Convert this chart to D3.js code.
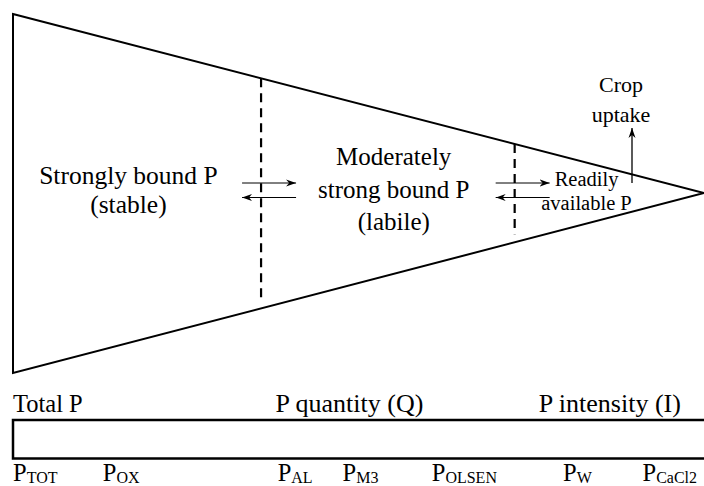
<!DOCTYPE html>
<html><head><meta charset="utf-8">
<script src="https://cdn.jsdelivr.net/npm/d3@7"></script>
<style>html,body{margin:0;padding:0;background:#fff;}svg{display:block;}</style>
</head><body>
<script>
// Pools along the wedge (fraction of wedge length from left edge to apex)
const poolNames = [["Strongly bound P","(stable)"],["Moderately","strong bound P","(labile)"],["Readily","available P"]];
const poolCenters = [0.167, 0.551, 0.830];
const boundaries = [0.359, 0.726];
const groupLabels = ["Total P","P quantity (Q)","P intensity (I)"];
const groupStarts = [0.0, 0.380, 0.761];
const methodMain = ["P","P","P","P","P","P","P"];
const methodSubs = ["TOT","OX","AL","M3","OLSEN","W","CaCl2"];
const methodStarts = [0.0, 0.130, 0.383, 0.477, 0.606, 0.796, 0.911];

const W=704,H=486;
const FONT='"Liberation Serif"';
const svg=d3.select("body").append("svg").attr("width",W).attr("height",H);
const x=d3.scaleLinear().domain([0,1]).range([13,704]);
const yTop=d3.scaleLinear().domain([0,1]).range([14,193]);
const yBot=d3.scaleLinear().domain([0,1]).range([373,193]);

const defs=svg.append("defs");
defs.append("marker").attr("id","ah").attr("viewBox","0 0 10 10").attr("refX",10).attr("refY",5)
  .attr("markerWidth",10).attr("markerHeight",10).attr("markerUnits","userSpaceOnUse").attr("orient","auto")
  .append("path").attr("d","M0,1.5 L10,5 L0,8.5 L3,5 Z").attr("fill","#000");

svg.append("path").attr("d",`M${x(0)},${yTop(0)} L${x(1)},${yTop(1)} L${x(0)},${yBot(0)} Z`)
  .attr("fill","none").attr("stroke","#000").attr("stroke-width",2).attr("stroke-linejoin","miter");

boundaries.forEach(b=>{
  svg.append("line").attr("x1",x(b)).attr("x2",x(b)).attr("y1",yTop(b)).attr("y2",yBot(b)-8)
    .attr("stroke","#000").attr("stroke-width",2.2).attr("stroke-dasharray","9,6");
  svg.append("line").attr("x1",x(b)-19).attr("x2",x(b)+35).attr("y1",183).attr("y2",183)
    .attr("stroke","#000").attr("stroke-width",1).attr("marker-end","url(#ah)");
  svg.append("line").attr("x1",x(b)+35).attr("x2",x(b)-19).attr("y1",197.5).attr("y2",197.5)
    .attr("stroke","#000").attr("stroke-width",1).attr("marker-end","url(#ah)");
});

const poolSizes=[25.5,25,20.5];
const poolBase=[[184,213],[165,198,230],[186,210]];
poolNames.forEach((lines,i)=>{
  lines.forEach((t,j)=>{
    svg.append("text").attr("x",x(poolCenters[i])).attr("y",poolBase[i][j]).attr("text-anchor","middle")
      .style("font-family",FONT).style("font-size",poolSizes[i]+"px").text(t);
  });
});

svg.append("line").attr("x1",632).attr("x2",632).attr("y1",183).attr("y2",128)
  .attr("stroke","#000").attr("stroke-width",1.3).attr("marker-end","url(#ah)");
["Crop","uptake"].forEach((t,j)=>svg.append("text").attr("x",621).attr("y",[92,122][j]).attr("text-anchor","middle")
  .style("font-family",FONT).style("font-size","22px").text(t));

const groupSizes=[24.5,26,26];
groupLabels.forEach((t,i)=>svg.append("text").attr("x",x(groupStarts[i])).attr("y",412)
  .style("font-family",FONT).style("font-size",groupSizes[i]+"px").text(t));

svg.append("rect").attr("x",x(0)).attr("y",420).attr("width",710-x(0)).attr("height",38.5)
  .attr("fill","none").attr("stroke","#000").attr("stroke-width",2.5);

methodSubs.forEach((s,i)=>{
  const t=svg.append("text").attr("x",x(methodStarts[i])).attr("y",481)
    .style("font-family",FONT).style("font-size","24.5px");
  t.append("tspan").text(methodMain[i]);
  t.append("tspan").style("font-size","16px").attr("dy",2).text(s);
});
</script>
</body></html>
